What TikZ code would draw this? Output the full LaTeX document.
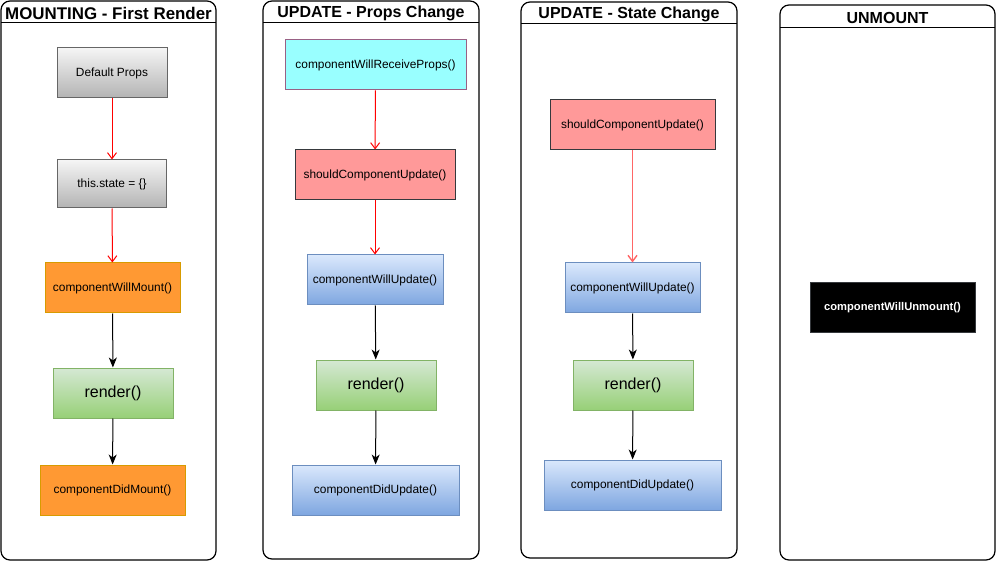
\documentclass[tikz,border=0pt]{standalone}
\usepackage{fontspec}
\setmainfont{Liberation Sans}
\usetikzlibrary{arrows.meta}
\definecolor{grayA}{HTML}{F5F5F5}
\definecolor{grayB}{HTML}{B3B3B3}
\definecolor{grayD}{HTML}{666666}
\definecolor{orangeF}{HTML}{FF9933}
\definecolor{orangeD}{HTML}{D79B00}
\definecolor{greenA}{HTML}{D5E8D4}
\definecolor{greenB}{HTML}{97D077}
\definecolor{greenD}{HTML}{82B366}
\definecolor{blueA}{HTML}{DAE8FC}
\definecolor{blueB}{HTML}{7EA6E0}
\definecolor{blueD}{HTML}{6C8EBF}
\definecolor{cyanF}{HTML}{99FFFF}
\definecolor{cyanD}{HTML}{996185}
\definecolor{redF}{HTML}{FF9999}
\definecolor{redD}{HTML}{36393D}
\definecolor{lightred}{HTML}{FF6666}
\tikzset{
  box/.style={draw, line width=1pt, inner sep=0pt, font=\fontsize{11.9}{14}\selectfont, text=black},
  graybox/.style={box, draw=grayD, top color=grayA, bottom color=grayB},
  orangebox/.style={box, draw=orangeD, fill=orangeF},
  greenbox/.style={box, draw=greenD, top color=greenA, bottom color=greenB, font=\fontsize{16}{18}\selectfont},
  bluebox/.style={box, draw=blueD, top color=blueA, bottom color=blueB},
  cyanbox/.style={box, draw=cyanD, fill=cyanF},
  redbox/.style={box, draw=redD, fill=redF},
  blackbox/.style={box, draw=redD, fill=black, text=white, font=\fontsize{11.2}{13}\selectfont\bfseries},
  lane/.style={draw, line width=1.2pt, rounded corners=9pt, inner sep=0pt},
  lanetitle/.style={font=\fontsize{16}{18}\selectfont\bfseries, inner sep=0pt},
  redarrow/.style={draw=red, line width=1pt, -{Straight Barb[length=6pt,width=9pt]}},
  lredarrow/.style={draw=lightred, line width=1.4pt, -{Straight Barb[length=6pt,width=9pt]}},
  blackarrow/.style={draw=black, line width=1pt, -{Stealth[length=10pt,width=8pt,inset=3pt]}},
}
\begin{document}
\begin{tikzpicture}[x=1pt,y=-1pt]
\useasboundingbox (0,0) rectangle (996,561);
% lanes
\node[lane, minimum width=215pt, minimum height=559pt] (L1) at (108.5,280.5) {};
\draw[line width=1pt] (1,23) -- (216,23);
\node[lanetitle, font=\fontsize{16.9}{19}\selectfont\bfseries] (T1) at (108.5,13.5) {MOUNTING - First Render};
\node[lane, minimum width=216pt, minimum height=558pt] (L2) at (371,280) {};
\draw[line width=1pt] (263,23) -- (479,23);
\node[lanetitle] (T2) at (371,13) {UPDATE - Props Change};
\node[lane, minimum width=216pt, minimum height=556pt] (L3) at (629,280) {};
\draw[line width=1pt] (521,24) -- (737,24);
\node[lanetitle] (T3) at (629,14) {UPDATE - State Change};
\node[lane, minimum width=215pt, minimum height=555pt] (L4) at (887.5,282.5) {};
\draw[line width=1pt] (780,28) -- (995,28);
\node[lanetitle] (T4) at (887.5,17.5) {UNMOUNT};
% column 1
\node[graybox, minimum width=110pt, minimum height=50pt] (dp) at (112,73) {Default Props};
\node[graybox, minimum width=109pt, minimum height=48pt] (st) at (112,184) {this.state = \{\}};
\node[orangebox, minimum width=135pt, minimum height=50pt] (cwm) at (112.5,288) {componentWillMount()};
\node[greenbox, minimum width=120pt, minimum height=50pt] (r1) at (113,393) {render()};
\node[orangebox, minimum width=145pt, minimum height=50pt] (cdm) at (112.5,490) {componentDidMount()};
\draw[redarrow] (dp) -- (st);
\draw[redarrow] (st) -- (cwm);
\draw[blackarrow] (cwm) -- (r1);
\draw[blackarrow] (r1) -- (cdm);
% column 2
\node[cyanbox, minimum width=181pt, minimum height=50pt] (cwrp) at (375.5,65) {componentWillReceiveProps()};
\node[redbox, minimum width=160pt, minimum height=50pt] (scu1) at (375,175) {shouldComponentUpdate()};
\node[bluebox, minimum width=136pt, minimum height=50pt] (cwu1) at (375,280) {componentWillUpdate()};
\node[greenbox, minimum width=120pt, minimum height=50pt] (r2) at (376,385) {render()};
\node[bluebox, minimum width=167pt, minimum height=50pt] (cdu1) at (375.5,490) {componentDidUpdate()};
\draw[redarrow] (cwrp) -- (scu1);
\draw[redarrow] (scu1) -- (cwu1);
\draw[blackarrow] (cwu1) -- (r2);
\draw[blackarrow] (r2) -- (cdu1);
% column 3
\node[redbox, minimum width=165pt, minimum height=50pt] (scu2) at (632.5,125) {shouldComponentUpdate()};
\node[bluebox, minimum width=135pt, minimum height=50pt] (cwu2) at (632.5,288) {componentWillUpdate()};
\node[greenbox, minimum width=120pt, minimum height=50pt] (r3) at (633,385) {render()};
\node[bluebox, minimum width=177pt, minimum height=50pt] (cdu2) at (632.5,485) {componentDidUpdate()};
\draw[lredarrow] (scu2) -- (cwu2);
\draw[blackarrow] (cwu2) -- (r3);
\draw[blackarrow] (r3) -- (cdu2);
% column 4
\node[blackbox, minimum width=165pt, minimum height=50pt] (cwun) at (892.5,308) {componentWillUnmount()};
\end{tikzpicture}
\end{document}
